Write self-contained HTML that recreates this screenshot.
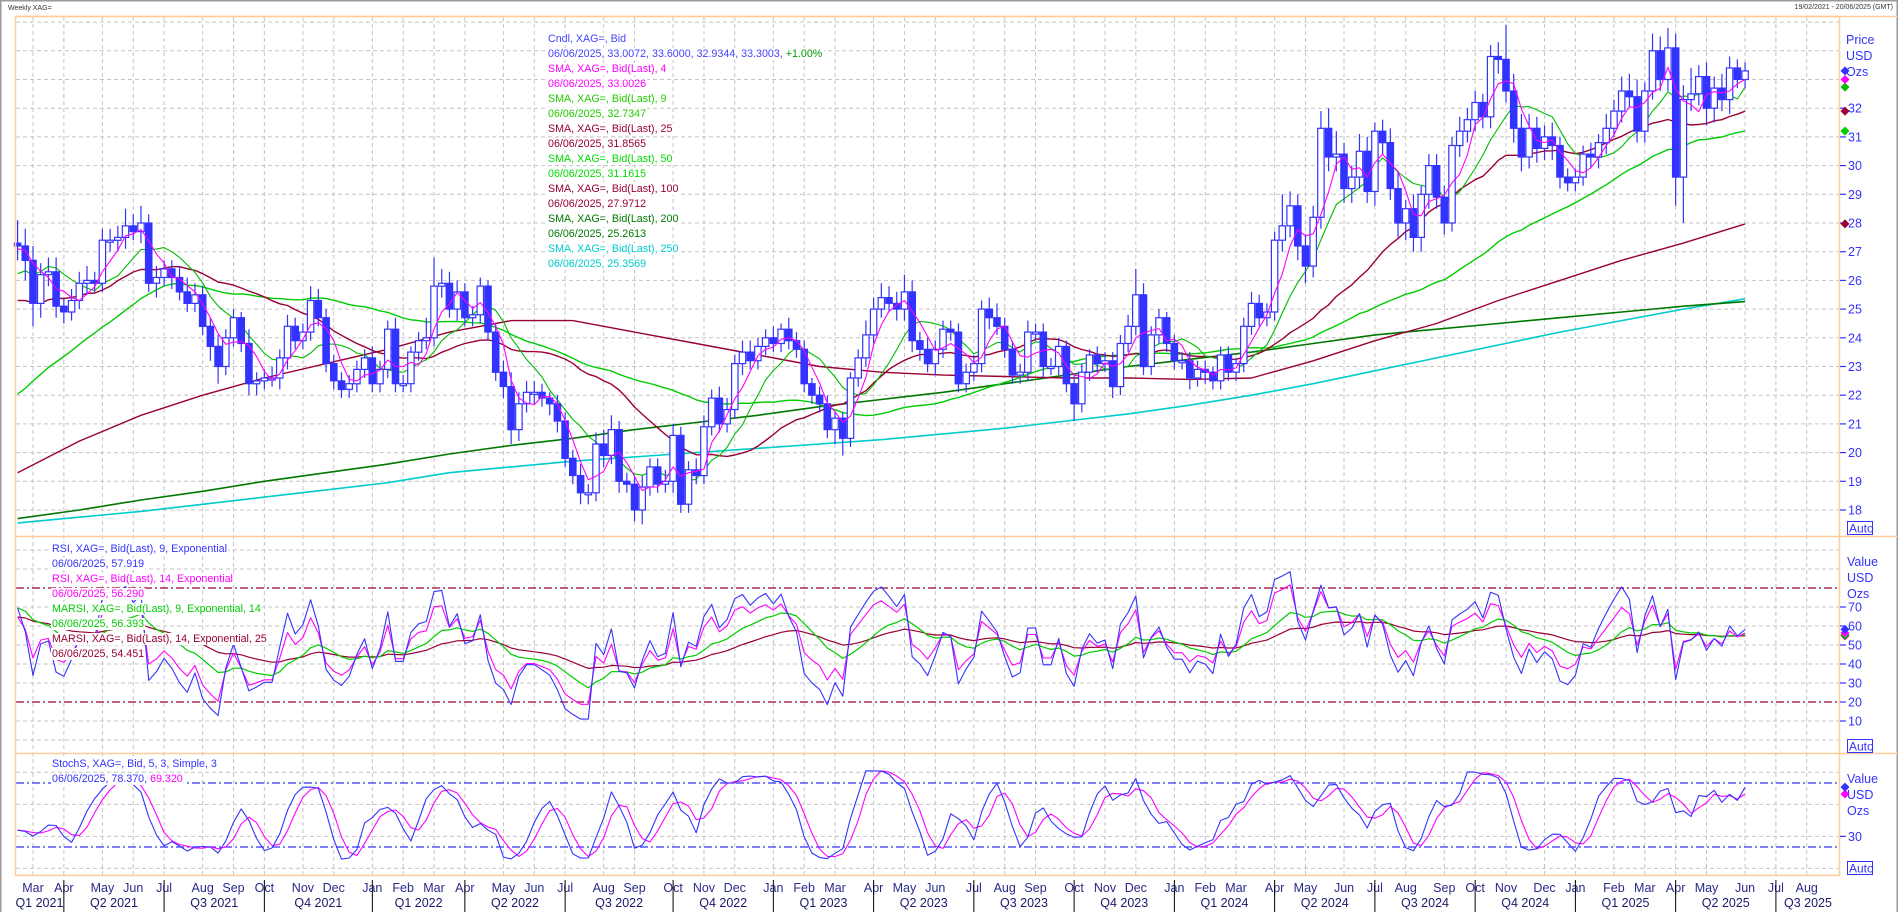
<!DOCTYPE html>
<html><head><meta charset="utf-8"><title>Weekly XAG=</title>
<style>
html,body{margin:0;padding:0;background:#fff;}
body{width:1898px;height:912px;overflow:hidden;font-family:"Liberation Sans",Arial,sans-serif;}
svg text{font-family:"Liberation Sans",Arial,sans-serif;}
</style></head>
<body>
<svg id="chart" width="1898" height="912" xmlns="http://www.w3.org/2000/svg">
  <rect x="0" y="0" width="1898" height="912" fill="#ffffff"/>
  <rect x="0.5" y="0.5" width="1897" height="920" fill="none" stroke="#9a9a9a" stroke-width="2"/>
  <text x="8" y="10" font-size="7" fill="#333">Weekly XAG=</text>
  <text x="1893" y="9" font-size="7" fill="#333" text-anchor="end">19/02/2021 - 20/06/2025 (GMT)</text>
  <g id="grid"></g>
  <g id="marks"></g>
  <g id="frames">
    <rect x="15.5" y="16.5" width="1824" height="859" fill="none" stroke="#ffcc99" stroke-width="1.5"/>
    <line x1="15" y1="536.5" x2="1898" y2="536.5" stroke="#ffcc99" stroke-width="1.5"/>
    <line x1="15" y1="753.5" x2="1898" y2="753.5" stroke="#ffcc99" stroke-width="1.5"/>
    <line x1="15" y1="16.5" x2="1898" y2="16.5" stroke="#ffcc99" stroke-width="1.5"/>
  </g>
  <g id="axes"></g>
  <g id="legends"></g>
</svg>
<script>
// ---------- DATA ----------
var preCloses = [17.3,16.6,12.6,14.5,14.4,15.6,15.3,15.2,14.9,15.5,16.6,17.1,18.4,17.5,17.5,17.6,17.8,18.1,18.7,19.7,22.7,24.4,28.3,26.3,26.6,27.5,26.9,27.0,26.8,23.2,23.8,25.1,24.3,24.6,23.8,25.6,24.8,24.1,22.6,24.2,23.9,25.8,25.8,26.4,25.2,24.7,25.6,26.9,27.0,27.3];
var closes = [
27.2,26.7,25.2,26.2,26.3,25.1,24.9,25.3,25.9,26.0,25.9,27.4,27.4,27.5,27.9,27.7,28.0,25.9,26.1,26.4,26.1,25.6,25.2,25.5,24.4,23.7,23.0,24.0,24.7,23.8,22.4,22.5,22.6,22.6,23.3,24.4,23.9,24.2,25.3,24.7,23.1,22.5,22.2,22.4,22.9,23.3,
22.4,22.9,24.3,22.4,22.4,23.5,23.9,24.0,25.8,25.9,25.0,25.6,24.7,24.8,25.8,24.2,22.8,22.3,20.8,21.7,22.1,22.1,21.9,21.7,21.1,19.8,19.2,18.6,18.6,20.3,19.9,20.8,19.0,18.9,18.0,18.8,19.5,18.9,19.0,20.6,18.2,19.4,19.2,20.9,21.9,21.0,21.5,23.1,23.5,23.2,23.7,24.0,
23.8,24.3,23.9,23.6,22.4,22.0,21.7,20.8,21.2,20.5,22.6,23.3,24.1,25.0,25.4,25.2,25.0,25.6,23.9,23.6,23.1,23.6,24.3,24.2,22.4,22.8,23.1,25.0,24.7,24.4,23.6,22.7,22.8,24.2,24.2,23.0,23.0,23.7,22.4,21.7,22.8,23.4,23.1,23.2,22.3,23.8,24.4,25.5,23.0,24.1,24.7,23.8,
23.2,23.2,22.6,22.9,22.8,22.5,23.4,22.8,23.1,24.4,25.2,24.7,24.9,27.4,27.9,28.6,27.2,26.5,28.2,31.3,30.3,30.4,29.2,29.6,30.5,29.1,31.2,30.8,29.2,28.0,28.5,27.5,29.0,30.0,28.9,28.0,30.7,31.2,31.6,32.2,31.7,33.8,33.7,32.6,31.3,30.3,31.3,30.6,31.0,30.7,29.6,29.4,
29.6,30.4,30.3,30.8,31.3,31.9,32.6,32.4,31.2,32.6,34.0,33.0,34.1,29.6,32.3,32.5,33.1,32.0,32.7,32.3,33.4,33.0,33.3];
var wickUp = [
0.8,0.6,0.5,0.4,0.5,0.5,0.3,0.4,0.4,0.5,0.3,0.4,0.4,0.4,0.6,0.4,0.6,0.3,0.4,0.3,0.3,0.4,0.5,0.4,0.3,0.3,0.4,0.3,0.3,0.2,0.5,0.3,0.3,0.4,0.3,0.4,0.3,0.3,0.5,0.4,0.3,0.3,0.3,0.3,0.3,0.3,
0.4,0.3,0.3,0.4,0.3,0.2,0.3,0.7,1.0,0.5,0.4,0.4,0.3,0.3,0.3,0.2,0.3,0.4,0.5,0.4,0.4,0.4,0.3,0.2,0.3,0.3,0.3,0.4,0.3,0.4,0.5,0.5,0.3,0.3,0.3,0.4,0.3,0.3,0.4,0.4,0.3,0.3,0.4,0.4,0.3,0.4,0.4,0.3,0.4,0.4,0.3,0.3,
0.4,0.2,0.4,0.3,0.3,0.2,0.3,0.3,0.2,0.2,0.2,0.3,0.5,0.4,0.5,0.4,0.4,0.6,0.4,0.3,0.4,0.3,0.3,0.3,0.3,0.3,0.3,0.3,0.4,0.5,0.3,0.3,0.3,0.4,0.3,0.3,0.3,0.3,0.2,0.3,0.3,0.2,0.3,0.3,0.3,0.3,0.4,0.9,0.4,0.3,0.3,0.2,
0.3,0.3,0.3,0.3,0.3,0.2,0.3,0.3,0.2,0.3,0.4,0.3,0.3,0.3,1.1,0.5,0.4,0.4,0.4,0.6,0.7,0.8,0.4,0.4,0.6,0.5,0.3,0.4,0.5,0.6,0.3,0.5,0.3,0.4,0.4,0.4,0.3,0.5,0.4,0.4,0.3,0.4,0.5,1.2,0.6,0.5,0.5,0.4,0.4,0.5,0.3,0.3,
0.3,0.3,0.4,0.3,0.5,0.4,0.5,0.6,0.6,0.3,0.6,0.5,0.7,0.5,0.5,0.9,0.4,0.5,0.4,0.5,0.4,0.3,0.3];
var wickDown = [
0.5,0.7,0.8,0.5,0.4,0.4,0.4,0.3,0.3,0.4,0.3,0.3,0.4,0.4,0.4,0.3,0.4,0.3,0.5,0.3,0.4,0.3,0.3,0.3,0.3,0.5,0.6,0.3,0.3,0.3,0.4,0.4,0.3,0.3,0.4,0.4,0.3,0.3,0.3,0.3,0.3,0.3,0.3,0.3,0.3,0.3,
0.3,0.3,0.3,0.3,0.3,0.3,0.3,0.3,0.3,0.4,0.3,0.4,0.3,0.3,0.3,0.3,0.3,0.4,0.5,0.4,0.3,0.4,0.3,0.4,0.4,0.3,0.3,0.4,0.4,0.3,0.4,0.3,0.4,0.3,0.4,0.5,0.3,0.3,0.3,0.4,0.3,0.3,0.3,0.3,0.3,0.3,0.3,0.3,0.4,0.3,0.3,0.3,
0.3,0.3,0.3,0.3,0.3,0.3,0.3,0.3,0.5,0.6,0.3,0.3,0.3,0.3,0.3,0.3,0.4,0.4,0.4,0.4,0.3,0.4,0.3,0.3,0.3,0.3,0.3,0.3,0.4,0.3,0.3,0.3,0.3,0.3,0.3,0.4,0.3,0.3,0.3,0.6,0.3,0.3,0.3,0.3,0.4,0.3,0.3,0.3,0.3,0.3,0.3,0.3,
0.3,0.3,0.4,0.3,0.4,0.3,0.3,0.3,0.3,0.3,0.3,0.3,0.3,0.3,0.4,0.4,0.5,0.6,0.4,0.4,0.5,0.5,0.5,0.5,0.4,0.4,0.5,0.4,0.4,0.5,0.6,0.5,0.5,0.5,0.4,0.4,0.3,0.4,0.4,0.4,0.4,0.4,0.5,0.4,0.5,0.5,0.4,0.5,0.4,0.5,0.4,0.3,
0.3,0.3,0.4,0.4,0.4,0.3,0.4,0.4,0.4,0.4,0.3,0.4,0.4,1.0,1.6,0.4,0.4,0.6,0.5,0.4,0.5,0.3,0.3];
var sma100Samples = [19.3,20.4,21.3,22.0,22.6,23.1,23.6,24.2,24.6,24.6,24.2,23.8,23.4,23.0,22.8,22.7,22.65,22.6,22.6,22.55,22.6,23.2,23.9,24.5,25.3,26.0,26.7,27.3,27.97];
var sma200Samples = [17.7,18.0,18.35,18.65,19.0,19.3,19.6,19.95,20.25,20.5,20.8,21.05,21.3,21.6,21.85,22.1,22.4,22.7,23.0,23.25,23.5,23.8,24.1,24.3,24.5,24.7,24.9,25.1,25.26];
var sma250Samples = [17.55,17.75,17.95,18.2,18.45,18.7,18.95,19.3,19.5,19.7,19.85,20.0,20.15,20.3,20.45,20.65,20.85,21.1,21.35,21.65,22.0,22.4,22.85,23.3,23.75,24.2,24.6,25.0,25.36];
var sampleStep = 8;
var priceTicks = [18,19,20,21,22,23,24,25,26,27,28,29,30,31,32];
var rsiTicks = [10,20,30,40,50,60,70];
var stochTicks = [30];
var monthNames = ["Jan","Feb","Mar","Apr","May","Jun","Jul","Aug","Sep","Oct","Nov","Dec"];

// ---------- SCALES ----------
var NS = "http://www.w3.org/2000/svg";
var startDate = Date.UTC(2021,1,19);
function xAt(i){ return 33 + (i-2)*7.712; }
function yP(p){ return 510 - (p-18)*28.7; }
function yR(v){ return 645 - (v-50)*1.9; }
function yS(v){ return 847 - (v-20)*1.067; }
function mk(tag, attrs, parent){ var e=document.createElementNS(NS,tag); for(var k in attrs) e.setAttribute(k,attrs[k]); parent.appendChild(e); return e; }
var G = document.getElementById('grid'), M = document.getElementById('marks'), A = document.getElementById('axes'), L = document.getElementById('legends');

// ---------- DERIVED ----------
var full = preCloses.concat(closes), P = preCloses.length, N = closes.length;
var opens = [], highs = [], lows = [];
for (var i=0;i<N;i++){ var o = full[P+i-1]; opens.push(o); var c=closes[i];
  highs.push(Math.max(o,c)+(wickUp[i]!==undefined?wickUp[i]:0.3)); lows.push(Math.min(o,c)-(wickDown[i]!==undefined?wickDown[i]:0.3)); }
function sma(n){ var out=[]; for(var i=0;i<N;i++){ var s=0,cnt=0; for(var k=Math.max(0,P+i-n+1);k<=P+i;k++){s+=full[k];cnt++;} out.push(s/cnt);} return out; }
var sma4=sma(4), sma9=sma(9), sma25=sma(25), sma50=sma(50);
function rsi(n){ var out=[], ag=0, al=0, a=2/(n+1); for(var k=1;k<full.length;k++){ var d=full[k]-full[k-1], g=d>0?d:0, l=d<0?-d:0;
  if(k<=n){ ag+=g/n; al+=l/n; } else { ag=ag+a*(g-ag); al=al+a*(l-al); }
  if(k>=P) out.push(al===0?100:100-100/(1+ag/al)); } return out; }
function ema(arr,n){ var a=2/(n+1), out=[], e=arr[0]; for(var i=0;i<arr.length;i++){ e = i===0?arr[0]:e+a*(arr[i]-e); out.push(e);} return out; }
var rsi9=rsi(9), rsi14=rsi(14), marsi9=ema(rsi9,14), marsi14=ema(rsi14,25);
var kRaw=[]; for(var i=0;i<N;i++){ var hh=-1e9, ll=1e9; for(var k=Math.max(0,i-4);k<=i;k++){hh=Math.max(hh,highs[k]);ll=Math.min(ll,lows[k]);} kRaw.push(hh>ll?100*(closes[i]-ll)/(hh-ll):50); }
function smaArr(a,n){ var out=[]; for(var i=0;i<a.length;i++){var s=0,c=0; for(var k=Math.max(0,i-n+1);k<=i;k++){s+=a[k];c++;} out.push(s/c);} return out; }
var stochK=smaArr(kRaw,3), stochD=smaArr(stochK,3);

// ---------- GRID ----------
var dash = {"stroke":"#c4c4c4","stroke-width":"1","stroke-dasharray":"4,3"};
function hline(y,name){ var e=mk('line',Object.assign({x1:16,x2:1840,y1:y,y2:y},dash),G);
  
   }
for (var p=18;p<=35;p++){ hline(yP(p),'price-gridline'); }
[0,10,30,40,50,60,70,90,100].forEach(function(v){ hline(yR(v),'rsi-gridline'); });
[0,30,60,90].forEach(function(v){ hline(yS(v),'stoch-gridline'); });
// months
var months=[]; var prevM=-1;
for (var i=0;i<=234;i++){ var d=new Date(startDate+i*7*864e5); var m=d.getUTCMonth(); if(m!==prevM){ if(i>0) months.push({i:i,m:m,y:d.getUTCFullYear()}); prevM=m; } }
months.forEach(function(mo){ var x=xAt(mo.i); if(x>1838) return;
  var e=mk('line',Object.assign({x1:x,x2:x,y1:17,y2:876},dash),G);
  
  
  var t=mk('text',{x:x,y:892,"font-size":"12.5","text-anchor":"middle",fill:"#2a2a8a"},A); t.textContent=monthNames[mo.m];
  
  
});
// quarters
var qb=[{x:15,label:null}]; months.forEach(function(mo){ if(mo.m%3===0 && xAt(mo.i)<1838) qb.push({x:xAt(mo.i),q:mo.m/3+1,y:mo.y}); });
qb.push({x:1840});
for (var q=0;q<qb.length-1;q++){
  var x0=qb[q].x, x1=qb[q+1].x; var qn, yr;
  if(q===0){ qn=1; yr=2021; } else { qn=qb[q].q; yr=qb[q].y; }
  var t=mk('text',{x:(x0+x1)/2,y:907,"font-size":"12.5","text-anchor":"middle",fill:"#1a1a6a"},A); t.textContent="Q"+qn+" "+yr;
  
  
  if(q>0){ var s=mk('line',{x1:x0,x2:x0,y1:880,y2:912,stroke:"#000","stroke-width":"1"},A);
    
     }
}
// reference lines
function refline(y,color,name){ var e=mk('line',{x1:16,x2:1840,y1:y,y2:y,stroke:color,"stroke-width":"1.2","stroke-dasharray":"8,3,2,3"},G);
  
   }
refline(yR(80),'#990033','rsi-overbought-line'); refline(yR(20),'#990033','rsi-oversold-line');
refline(yS(80),'#3333ff','stoch-upper-line'); refline(yS(20),'#3333ff','stoch-lower-line');

// ---------- SERIES ----------
function poly(vals, yf, color, name, w, idxf){ var pts=[]; for(var i=0;i<vals.length;i++){ var ii=idxf?idxf(i):i; pts.push(xAt(ii).toFixed(1)+","+yf(vals[i]).toFixed(1)); }
  var e=mk('polyline',{points:pts.join(" "),fill:"none",stroke:color,"stroke-width":w||1.2,"stroke-linejoin":"round"},M);
  
   return e; }
var sampIdx=function(i){return i*sampleStep;};
poly(sma250Samples,yP,'#00cccc','sma-250-line',1.6,sampIdx);
poly(sma200Samples,yP,'#007700','sma-200-line',1.6,sampIdx);
poly(sma100Samples,yP,'#990033','sma-100-line',1.4,sampIdx);
poly(sma50,yP,'#00cc00','sma-50-line',1.4);
poly(sma25,yP,'#990033','sma-25-line',1.4);
poly(sma9,yP,'#00bb00','sma-9-line',1.1);
// candles
for (var i=0;i<N;i++){ var cx=xAt(i), o=opens[i], c=closes[i], up=c>=o;
  var wk=mk('line',{x1:cx,x2:cx,y1:yP(highs[i]),y2:yP(lows[i]),stroke:"#3333ff","stroke-width":"1.2"},M);
  
  
  var bTop=yP(Math.max(o,c)), bBot=yP(Math.min(o,c)); var bh=Math.max(2,bBot-bTop);
  var bd=mk('rect',{x:(cx-3.2).toFixed(1),y:bTop.toFixed(1),width:"6.4",height:bh.toFixed(1),fill:up?"#ffffff":"#3333ff",stroke:"#3333ff","stroke-width":"1.2"},M);
  
  
}
poly(sma4,yP,'#ff00ff','sma-4-line',1.1);
// RSI
poly(marsi14,yR,'#990033','marsi-14-line',1.2);
poly(marsi9,yR,'#00cc00','marsi-9-line',1.2);
poly(rsi14,yR,'#ff00ff','rsi-14-line',1.1);
poly(rsi9,yR,'#3333ff','rsi-9-line',1.1);
// Stoch
poly(stochD,yS,'#ff00ff','stoch-d-line',1.1);
poly(stochK,yS,'#3333ff','stoch-k-line',1.1);

// ---------- AXES ----------
function axisLabel(y,txt,name){ var t=mk('text',{x:1848,y:y+4.5,"font-size":"12.5",fill:"#3333ff"},A); t.textContent=txt;
  
  
  var tk=mk('line',{x1:1840,x2:1846,y1:y,y2:y,stroke:"#3333ff","stroke-width":"1.2"},A);
  
   }
priceTicks.forEach(function(p){ axisLabel(yP(p),String(p),'price-tick-label'); });
rsiTicks.forEach(function(v){ axisLabel(yR(v),String(v),'rsi-tick-label'); });
stochTicks.forEach(function(v){ axisLabel(yS(v),String(v),'stoch-tick-label'); });
function unitText(x,y,txt,name){ var t=mk('text',{x:x,y:y,"font-size":"12.5",fill:"#3333ff"},A); t.textContent=txt;
  
   }
unitText(1846,44,'Price','price-axis-title'); unitText(1846,60,'USD','price-axis-currency'); unitText(1846,76,'Ozs','price-axis-unit');
unitText(1847,566,'Value','rsi-axis-title'); unitText(1847,582,'USD','rsi-axis-currency'); unitText(1847,598,'Ozs','rsi-axis-unit');
unitText(1847,783,'Value','stoch-axis-title'); unitText(1847,799,'USD','stoch-axis-currency'); unitText(1847,815,'Ozs','stoch-axis-unit');
function autoBox(y,name){ var g=mk('g',{},A);
  
  
  mk('rect',{x:1847.5,y:y,width:25,height:13,fill:"#fff",stroke:"#3333ff","stroke-width":"1"},g);
  var t=mk('text',{x:1849,y:y+11,"font-size":"12",fill:"#3333ff"},g); t.textContent='Auto'; }
autoBox(521.5,'price-auto-scale-button'); autoBox(739.5,'rsi-auto-scale-button'); autoBox(861.5,'stoch-auto-scale-button');
function diamond(y,color,name){ var e=mk('polygon',{points:(1845)+","+(y-4.5)+" "+(1849.5)+","+y+" "+1845+","+(y+4.5)+" "+1840.5+","+y,fill:color},A);
  
   }
var last=N-1;
diamond(yP(sma100Samples[sma100Samples.length-1]),'#990033','sma-100-marker');
diamond(yP(sma50[last]),'#00cc00','sma-50-marker');
diamond(yP(sma25[last]),'#990033','sma-25-marker');
diamond(yP(sma9[last]),'#00bb00','sma-9-marker');
diamond(yP(sma4[last]),'#ff00ff','sma-4-marker');
diamond(yP(closes[last]),'#3333ff','close-marker');
diamond(yR(marsi14[last]),'#990033','marsi-14-marker');
diamond(yR(marsi9[last]),'#00cc00','marsi-9-marker');
diamond(yR(rsi14[last]),'#ff00ff','rsi-14-marker');
diamond(yR(rsi9[last]),'#3333ff','rsi-9-marker');
diamond(yS(stochD[last]),'#ff00ff','stoch-d-marker');
diamond(yS(stochK[last]),'#3333ff','stoch-k-marker');

// ---------- LEGENDS ----------
function legend(x,y,parts,name,fs){ var t=mk('text',{x:x,y:y,"font-size":fs||"10.7"},L);
  
  
  parts.forEach(function(p){ var s=mk('tspan',{fill:p[1]},t); s.textContent=p[0]; });
  var bb=t.getBBox(); var r=document.createElementNS(NS,'rect');
  r.setAttribute('x',bb.x-1); r.setAttribute('y',bb.y); r.setAttribute('width',bb.width+2); r.setAttribute('height',bb.height);
  r.setAttribute('fill','#fff');
  
  
  L.insertBefore(r,t); }
var mainLeg=[
 [["Cndl, XAG=, Bid","#4444ff"]],
 [["06/06/2025, 33.0072, 33.6000, 32.9344, 33.3003, ","#4444ff"],["+1.00%","#009900"]],
 [["SMA, XAG=, Bid(Last),  4","#ff00ff"]],[["06/06/2025, 33.0026","#ff00ff"]],
 [["SMA, XAG=, Bid(Last),  9","#22cc00"]],[["06/06/2025, 32.7347","#22cc00"]],
 [["SMA, XAG=, Bid(Last),  25","#990033"]],[["06/06/2025, 31.8565","#990033"]],
 [["SMA, XAG=, Bid(Last),  50","#00dd00"]],[["06/06/2025, 31.1615","#00dd00"]],
 [["SMA, XAG=, Bid(Last),  100","#990033"]],[["06/06/2025, 27.9712","#990033"]],
 [["SMA, XAG=, Bid(Last),  200","#007700"]],[["06/06/2025, 25.2613","#007700"]],
 [["SMA, XAG=, Bid(Last),  250","#00cccc"]],[["06/06/2025, 25.3569","#00cccc"]]];
mainLeg.forEach(function(l,k){ legend(548,42+k*15,l,'price-legend-line'); });
var rsiLeg=[
 [["RSI, XAG=, Bid(Last),  9, Exponential","#3333ff"]],[["06/06/2025, 57.919","#3333ff"]],
 [["RSI, XAG=, Bid(Last),  14, Exponential","#ff00ff"]],[["06/06/2025, 56.290","#ff00ff"]],
 [["MARSI, XAG=, Bid(Last),  9, Exponential, 14","#00cc00"]],[["06/06/2025, 56.393","#00cc00"]],
 [["MARSI, XAG=, Bid(Last),  14, Exponential, 25","#990033"]],[["06/06/2025, 54.451","#990033"]]];
rsiLeg.forEach(function(l,k){ legend(52,552+k*15,l,'rsi-legend-line'); });
legend(52,767,[["StochS, XAG=, Bid,  5, 3, Simple, 3","#3333ff"]],'stoch-legend-line');
legend(52,782,[["06/06/2025, 78.370, ","#3333ff"],["69.320","#ff00ff"]],'stoch-legend-values');
</script>
</body></html>
